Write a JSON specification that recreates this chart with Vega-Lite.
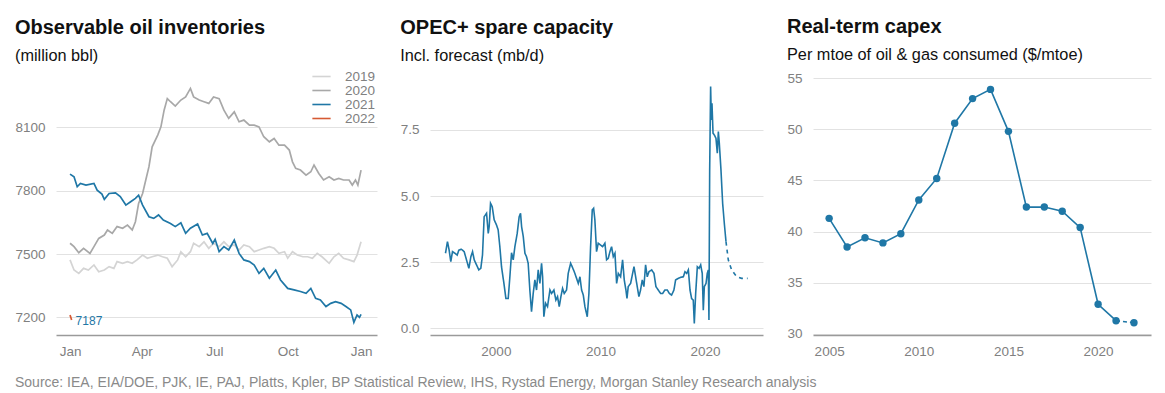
{
  "$schema": "https://vega.github.io/schema/vega-lite/v6.json",
  "padding": {"left": 14, "top": 16, "right": 5, "bottom": 0},
  "background": "white",
  "title": {"text": "Source: IEA, EIA/DOE, PJK, IE, PAJ, Platts, Kpler, BP Statistical Review, IHS, Rystad Energy, Morgan Stanley Research analysis", "orient": "bottom", "anchor": "start", "fontSize": 14, "fontWeight": "normal", "color": "#8a8a8a", "font": "Liberation Sans", "offset": 18},
  "datasets": {
    "inv": [
      {"year":"2019","day":0,"v":7472},{"year":"2019","day":5,"v":7424},{"year":"2019","day":11,"v":7408},{"year":"2019","day":17,"v":7432},{"year":"2019","day":23,"v":7424},{"year":"2019","day":30,"v":7448},{"year":"2019","day":36,"v":7416},{"year":"2019","day":43,"v":7424},{"year":"2019","day":49,"v":7440},{"year":"2019","day":55,"v":7432},{"year":"2019","day":59,"v":7464},{"year":"2019","day":66,"v":7456},{"year":"2019","day":72,"v":7464},{"year":"2019","day":78,"v":7456},{"year":"2019","day":84,"v":7472},{"year":"2019","day":91,"v":7495},{"year":"2019","day":97,"v":7480},{"year":"2019","day":103,"v":7487},{"year":"2019","day":110,"v":7495},{"year":"2019","day":116,"v":7487},{"year":"2019","day":122,"v":7480},{"year":"2019","day":128,"v":7440},{"year":"2019","day":135,"v":7472},{"year":"2019","day":139,"v":7511},{"year":"2019","day":145,"v":7487},{"year":"2019","day":151,"v":7511},{"year":"2019","day":155,"v":7551},{"year":"2019","day":162,"v":7535},{"year":"2019","day":168,"v":7558},{"year":"2019","day":174,"v":7527},{"year":"2019","day":180,"v":7551},{"year":"2019","day":187,"v":7535},{"year":"2019","day":193,"v":7558},{"year":"2019","day":199,"v":7535},{"year":"2019","day":206,"v":7543},{"year":"2019","day":212,"v":7519},{"year":"2019","day":218,"v":7543},{"year":"2019","day":225,"v":7535},{"year":"2019","day":231,"v":7511},{"year":"2019","day":237,"v":7519},{"year":"2019","day":243,"v":7527},{"year":"2019","day":250,"v":7535},{"year":"2019","day":256,"v":7527},{"year":"2019","day":262,"v":7503},{"year":"2019","day":269,"v":7511},{"year":"2019","day":273,"v":7480},{"year":"2019","day":279,"v":7511},{"year":"2019","day":285,"v":7495},{"year":"2019","day":292,"v":7487},{"year":"2019","day":298,"v":7487},{"year":"2019","day":304,"v":7480},{"year":"2019","day":310,"v":7503},{"year":"2019","day":316,"v":7487},{"year":"2019","day":325,"v":7456},{"year":"2019","day":331,"v":7487},{"year":"2019","day":337,"v":7503},{"year":"2019","day":343,"v":7480},{"year":"2019","day":350,"v":7472},{"year":"2019","day":356,"v":7464},{"year":"2019","day":360,"v":7495},{"year":"2019","day":365,"v":7558},
      {"year":"2020","day":0,"v":7551},{"year":"2020","day":5,"v":7535},{"year":"2020","day":11,"v":7506},{"year":"2020","day":17,"v":7527},{"year":"2020","day":25,"v":7503},{"year":"2020","day":30,"v":7535},{"year":"2020","day":36,"v":7574},{"year":"2020","day":43,"v":7590},{"year":"2020","day":47,"v":7614},{"year":"2020","day":53,"v":7598},{"year":"2020","day":59,"v":7630},{"year":"2020","day":66,"v":7622},{"year":"2020","day":72,"v":7637},{"year":"2020","day":78,"v":7614},{"year":"2020","day":82,"v":7653},{"year":"2020","day":86,"v":7740},{"year":"2020","day":91,"v":7787},{"year":"2020","day":95,"v":7851},{"year":"2020","day":99,"v":7914},{"year":"2020","day":103,"v":8008},{"year":"2020","day":110,"v":8064},{"year":"2020","day":114,"v":8103},{"year":"2020","day":118,"v":8182},{"year":"2020","day":122,"v":8237},{"year":"2020","day":126,"v":8222},{"year":"2020","day":132,"v":8201},{"year":"2020","day":139,"v":8230},{"year":"2020","day":145,"v":8245},{"year":"2020","day":151,"v":8285},{"year":"2020","day":155,"v":8245},{"year":"2020","day":162,"v":8230},{"year":"2020","day":168,"v":8222},{"year":"2020","day":174,"v":8214},{"year":"2020","day":180,"v":8245},{"year":"2020","day":187,"v":8237},{"year":"2020","day":193,"v":8182},{"year":"2020","day":199,"v":8143},{"year":"2020","day":206,"v":8174},{"year":"2020","day":212,"v":8127},{"year":"2020","day":218,"v":8135},{"year":"2020","day":225,"v":8111},{"year":"2020","day":231,"v":8111},{"year":"2020","day":237,"v":8103},{"year":"2020","day":243,"v":8056},{"year":"2020","day":250,"v":8032},{"year":"2020","day":256,"v":8048},{"year":"2020","day":262,"v":8016},{"year":"2020","day":269,"v":8016},{"year":"2020","day":275,"v":7993},{"year":"2020","day":279,"v":7937},{"year":"2020","day":283,"v":7906},{"year":"2020","day":289,"v":7898},{"year":"2020","day":296,"v":7874},{"year":"2020","day":302,"v":7890},{"year":"2020","day":306,"v":7922},{"year":"2020","day":312,"v":7882},{"year":"2020","day":318,"v":7851},{"year":"2020","day":325,"v":7866},{"year":"2020","day":331,"v":7851},{"year":"2020","day":337,"v":7858},{"year":"2020","day":343,"v":7851},{"year":"2020","day":350,"v":7851},{"year":"2020","day":354,"v":7827},{"year":"2020","day":358,"v":7851},{"year":"2020","day":361,"v":7827},{"year":"2020","day":365,"v":7898},
      {"year":"2021","day":0,"v":7879},{"year":"2021","day":5,"v":7866},{"year":"2021","day":9,"v":7819},{"year":"2021","day":13,"v":7835},{"year":"2021","day":20,"v":7827},{"year":"2021","day":30,"v":7835},{"year":"2021","day":34,"v":7803},{"year":"2021","day":40,"v":7784},{"year":"2021","day":43,"v":7759},{"year":"2021","day":49,"v":7787},{"year":"2021","day":57,"v":7790},{"year":"2021","day":63,"v":7772},{"year":"2021","day":70,"v":7732},{"year":"2021","day":76,"v":7748},{"year":"2021","day":82,"v":7764},{"year":"2021","day":86,"v":7779},{"year":"2021","day":91,"v":7732},{"year":"2021","day":99,"v":7677},{"year":"2021","day":105,"v":7669},{"year":"2021","day":111,"v":7685},{"year":"2021","day":117,"v":7661},{"year":"2021","day":126,"v":7645},{"year":"2021","day":132,"v":7630},{"year":"2021","day":139,"v":7648},{"year":"2021","day":145,"v":7598},{"year":"2021","day":151,"v":7622},{"year":"2021","day":160,"v":7642},{"year":"2021","day":166,"v":7590},{"year":"2021","day":172,"v":7598},{"year":"2021","day":179,"v":7550},{"year":"2021","day":182,"v":7570},{"year":"2021","day":187,"v":7511},{"year":"2021","day":193,"v":7535},{"year":"2021","day":199,"v":7519},{"year":"2021","day":206,"v":7566},{"year":"2021","day":212,"v":7503},{"year":"2021","day":218,"v":7472},{"year":"2021","day":225,"v":7464},{"year":"2021","day":231,"v":7448},{"year":"2021","day":237,"v":7408},{"year":"2021","day":243,"v":7432},{"year":"2021","day":250,"v":7385},{"year":"2021","day":258,"v":7424},{"year":"2021","day":264,"v":7377},{"year":"2021","day":273,"v":7337},{"year":"2021","day":281,"v":7330},{"year":"2021","day":289,"v":7322},{"year":"2021","day":296,"v":7314},{"year":"2021","day":302,"v":7337},{"year":"2021","day":308,"v":7290},{"year":"2021","day":314,"v":7282},{"year":"2021","day":321,"v":7251},{"year":"2021","day":327,"v":7266},{"year":"2021","day":333,"v":7274},{"year":"2021","day":340,"v":7266},{"year":"2021","day":346,"v":7251},{"year":"2021","day":352,"v":7235},{"year":"2021","day":356,"v":7176},{"year":"2021","day":360,"v":7211},{"year":"2021","day":363,"v":7200},{"year":"2021","day":365,"v":7214},
      {"year":"2022","day":0,"v":7211},{"year":"2022","day":2,"v":7187}
    ],
    "invlabel": [{"day": 7, "v": 7182, "label": "7187"}],
    "opec": [
      {"t":1995.18,"v":2.84,"k":"actual"},{"t":1995.37,"v":3.28,"k":"actual"},{"t":1995.53,"v":2.96,"k":"actual"},{"t":1995.69,"v":2.52,"k":"actual"},{"t":1995.85,"v":2.90,"k":"actual"},{"t":1996.08,"v":2.84,"k":"actual"},{"t":1996.30,"v":2.77,"k":"actual"},{"t":1996.46,"v":2.96,"k":"actual"},{"t":1996.71,"v":2.99,"k":"actual"},{"t":1996.97,"v":2.90,"k":"actual"},{"t":1997.19,"v":2.59,"k":"actual"},{"t":1997.42,"v":2.27,"k":"actual"},{"t":1997.61,"v":2.71,"k":"actual"},{"t":1997.77,"v":2.90,"k":"actual"},{"t":1997.93,"v":2.59,"k":"actual"},{"t":1998.15,"v":2.40,"k":"actual"},{"t":1998.37,"v":2.21,"k":"actual"},{"t":1998.56,"v":2.27,"k":"actual"},{"t":1998.72,"v":2.77,"k":"actual"},{"t":1998.88,"v":4.22,"k":"actual"},{"t":1999.11,"v":4.35,"k":"actual"},{"t":1999.27,"v":3.59,"k":"actual"},{"t":1999.36,"v":3.85,"k":"actual"},{"t":1999.49,"v":4.73,"k":"actual"},{"t":1999.65,"v":4.60,"k":"actual"},{"t":1999.84,"v":4.10,"k":"actual"},{"t":2000.06,"v":3.91,"k":"actual"},{"t":2000.22,"v":3.72,"k":"actual"},{"t":2000.38,"v":3.09,"k":"actual"},{"t":2000.54,"v":2.33,"k":"actual"},{"t":2000.77,"v":1.70,"k":"actual"},{"t":2000.96,"v":1.13,"k":"actual"},{"t":2001.18,"v":1.13,"k":"actual"},{"t":2001.34,"v":1.95,"k":"actual"},{"t":2001.50,"v":2.86,"k":"actual"},{"t":2001.66,"v":2.59,"k":"actual"},{"t":2001.82,"v":3.09,"k":"actual"},{"t":2002.04,"v":3.59,"k":"actual"},{"t":2002.23,"v":4.22,"k":"actual"},{"t":2002.36,"v":4.35,"k":"actual"},{"t":2002.46,"v":3.85,"k":"actual"},{"t":2002.62,"v":3.47,"k":"actual"},{"t":2002.78,"v":2.84,"k":"actual"},{"t":2002.93,"v":2.71,"k":"actual"},{"t":2003.09,"v":2.46,"k":"actual"},{"t":2003.25,"v":1.45,"k":"actual"},{"t":2003.41,"v":0.63,"k":"actual"},{"t":2003.57,"v":1.32,"k":"actual"},{"t":2003.73,"v":1.83,"k":"actual"},{"t":2003.89,"v":1.45,"k":"actual"},{"t":2004.05,"v":2.21,"k":"actual"},{"t":2004.21,"v":1.70,"k":"actual"},{"t":2004.37,"v":2.46,"k":"actual"},{"t":2004.47,"v":1.95,"k":"actual"},{"t":2004.59,"v":0.44,"k":"actual"},{"t":2004.75,"v":0.95,"k":"actual"},{"t":2004.94,"v":0.82,"k":"actual"},{"t":2005.17,"v":1.45,"k":"actual"},{"t":2005.33,"v":1.32,"k":"actual"},{"t":2005.55,"v":1.45,"k":"actual"},{"t":2005.74,"v":1.07,"k":"actual"},{"t":2005.90,"v":1.20,"k":"actual"},{"t":2006.06,"v":0.82,"k":"actual"},{"t":2006.22,"v":1.20,"k":"actual"},{"t":2006.38,"v":1.51,"k":"actual"},{"t":2006.54,"v":1.32,"k":"actual"},{"t":2006.76,"v":1.45,"k":"actual"},{"t":2006.92,"v":2.08,"k":"actual"},{"t":2007.15,"v":2.46,"k":"actual"},{"t":2007.30,"v":2.33,"k":"actual"},{"t":2007.50,"v":2.14,"k":"actual"},{"t":2007.72,"v":1.89,"k":"actual"},{"t":2007.88,"v":1.70,"k":"actual"},{"t":2008.04,"v":1.95,"k":"actual"},{"t":2008.20,"v":1.45,"k":"actual"},{"t":2008.36,"v":1.26,"k":"actual"},{"t":2008.52,"v":0.82,"k":"actual"},{"t":2008.74,"v":0.44,"k":"actual"},{"t":2008.90,"v":1.32,"k":"actual"},{"t":2009.06,"v":3.09,"k":"actual"},{"t":2009.22,"v":4.48,"k":"actual"},{"t":2009.35,"v":4.54,"k":"actual"},{"t":2009.47,"v":4.10,"k":"actual"},{"t":2009.63,"v":2.90,"k":"actual"},{"t":2009.79,"v":3.22,"k":"actual"},{"t":2010.02,"v":3.15,"k":"actual"},{"t":2010.21,"v":3.09,"k":"actual"},{"t":2010.43,"v":3.22,"k":"actual"},{"t":2010.59,"v":2.59,"k":"actual"},{"t":2010.75,"v":2.65,"k":"actual"},{"t":2010.91,"v":2.90,"k":"actual"},{"t":2011.07,"v":3.09,"k":"actual"},{"t":2011.23,"v":2.71,"k":"actual"},{"t":2011.39,"v":2.84,"k":"actual"},{"t":2011.55,"v":1.70,"k":"actual"},{"t":2011.71,"v":2.08,"k":"actual"},{"t":2011.93,"v":1.95,"k":"actual"},{"t":2012.12,"v":2.59,"k":"actual"},{"t":2012.28,"v":1.83,"k":"actual"},{"t":2012.44,"v":1.45,"k":"actual"},{"t":2012.54,"v":1.13,"k":"actual"},{"t":2012.66,"v":1.58,"k":"actual"},{"t":2012.89,"v":1.70,"k":"actual"},{"t":2013.08,"v":2.08,"k":"actual"},{"t":2013.21,"v":2.33,"k":"actual"},{"t":2013.37,"v":1.95,"k":"actual"},{"t":2013.52,"v":1.58,"k":"actual"},{"t":2013.68,"v":1.20,"k":"actual"},{"t":2013.84,"v":1.45,"k":"actual"},{"t":2014.00,"v":1.83,"k":"actual"},{"t":2014.16,"v":1.58,"k":"actual"},{"t":2014.32,"v":2.40,"k":"actual"},{"t":2014.48,"v":1.95,"k":"actual"},{"t":2014.64,"v":2.14,"k":"actual"},{"t":2014.90,"v":2.21,"k":"actual"},{"t":2015.12,"v":2.08,"k":"actual"},{"t":2015.31,"v":1.58,"k":"actual"},{"t":2015.53,"v":1.45,"k":"actual"},{"t":2015.76,"v":1.32,"k":"actual"},{"t":2015.95,"v":1.32,"k":"actual"},{"t":2016.17,"v":1.45,"k":"actual"},{"t":2016.40,"v":1.45,"k":"actual"},{"t":2016.59,"v":1.32,"k":"actual"},{"t":2016.81,"v":1.26,"k":"actual"},{"t":2017.03,"v":1.45,"k":"actual"},{"t":2017.19,"v":1.83,"k":"actual"},{"t":2017.45,"v":1.89,"k":"actual"},{"t":2017.67,"v":1.93,"k":"actual"},{"t":2017.93,"v":1.95,"k":"actual"},{"t":2018.09,"v":2.14,"k":"actual"},{"t":2018.25,"v":2.08,"k":"actual"},{"t":2018.41,"v":2.21,"k":"actual"},{"t":2018.57,"v":1.45,"k":"actual"},{"t":2018.72,"v":1.13,"k":"actual"},{"t":2018.88,"v":1.07,"k":"actual"},{"t":2018.98,"v":0.19,"k":"actual"},{"t":2019.11,"v":1.32,"k":"actual"},{"t":2019.27,"v":2.33,"k":"actual"},{"t":2019.43,"v":2.27,"k":"actual"},{"t":2019.59,"v":2.40,"k":"actual"},{"t":2019.74,"v":2.08,"k":"actual"},{"t":2019.84,"v":0.69,"k":"actual"},{"t":2019.94,"v":1.58,"k":"actual"},{"t":2020.10,"v":1.70,"k":"actual"},{"t":2020.22,"v":2.08,"k":"actual"},{"t":2020.32,"v":2.21,"k":"actual"},{"t":2020.38,"v":0.32,"k":"actual"},{"t":2020.45,"v":5.99,"k":"actual"},{"t":2020.54,"v":9.14,"k":"actual"},{"t":2020.61,"v":7.88,"k":"actual"},{"t":2020.67,"v":8.51,"k":"actual"},{"t":2020.77,"v":7.38,"k":"actual"},{"t":2020.89,"v":7.31,"k":"actual"},{"t":2021.05,"v":7.19,"k":"actual"},{"t":2021.18,"v":6.62,"k":"actual"},{"t":2021.28,"v":7.44,"k":"actual"},{"t":2021.37,"v":7.00,"k":"actual"},{"t":2021.53,"v":5.99,"k":"actual"},{"t":2021.69,"v":4.73,"k":"actual"},{"t":2021.85,"v":3.97,"k":"actual"},{"t":2022.01,"v":3.28,"k":"actual"},
      {"t":2022.01,"v":3.28,"k":"forecast"},{"t":2022.23,"v":2.59,"k":"forecast"},{"t":2022.55,"v":2.21,"k":"forecast"},{"t":2023.03,"v":1.95,"k":"forecast"},{"t":2023.51,"v":1.89,"k":"forecast"},{"t":2024.08,"v":1.89,"k":"forecast"}
    ],
    "capex": [
      {"year":2005,"v":41.3},{"year":2006,"v":38.5},{"year":2007,"v":39.4},{"year":2008,"v":38.9},{"year":2009,"v":39.8},{"year":2010,"v":43.1},{"year":2011,"v":45.2},{"year":2012,"v":50.6},{"year":2013,"v":53.0},{"year":2014,"v":53.9},{"year":2015,"v":49.8},{"year":2016,"v":42.4},{"year":2017,"v":42.4},{"year":2018,"v":42.0},{"year":2019,"v":40.4},{"year":2020,"v":32.9},{"year":2021,"v":31.3},{"year":2022,"v":31.1}
    ]
  },
  "spacing": 23,
  "hconcat": [
    {
      "width": 321, "height": 263,
      "title": {"text": "Observable oil inventories", "subtitle": "(million bbl)"},
      "layer": [
        {
          "data": {"name": "inv"},
          "mark": {"type": "line", "strokeWidth": 1.7, "interpolate": "linear"},
          "encoding": {
            "x": {"field": "day", "type": "quantitative", "scale": {"domain": [-17.6, 385], "nice": false, "zero": false},
                  "axis": {"values": [0, 90, 181, 273, 365], "labelExpr": "datum.value == 0 ? 'Jan' : datum.value == 90 ? 'Apr' : datum.value == 181 ? 'Jul' : datum.value == 273 ? 'Oct' : 'Jan'"}},
            "y": {"field": "v", "type": "quantitative", "scale": {"domain": [7116, 8363], "nice": false, "zero": false}, "axis": {"values": [7200, 7500, 7800, 8100], "format": "d"}},
            "color": {"field": "year", "type": "nominal", "scale": {"domain": ["2019", "2020", "2021", "2022"], "range": ["#d4d4d4", "#a8a8a8", "#1f77a6", "#d65a33"]},
                      "legend": {"orient": "none", "legendX": 258, "legendY": -3, "title": null, "symbolType": "M-1.4,0H1.4", "symbolStrokeWidth": 1.6, "symbolSize": 170, "labelFontSize": 13.5, "labelColor": "#808080", "labelFont": "Liberation Sans", "rowPadding": -1, "labelOffset": 16}},
            "order": {"field": "day", "type": "quantitative"}
          }
        },
        {
          "data": {"name": "invlabel"},
          "mark": {"type": "text", "align": "left", "baseline": "middle", "fontSize": 12, "color": "#1f77a6", "font": "Liberation Sans"},
          "encoding": {
            "x": {"field": "day", "type": "quantitative"},
            "y": {"field": "v", "type": "quantitative"},
            "text": {"field": "label"}
          }
        }
      ]
    },
    {
      "width": 333, "height": 263,
      "title": {"text": "OPEC+ spare capacity", "subtitle": "Incl. forecast (mb/d)"},
      "data": {"name": "opec"},
      "mark": {"type": "line", "strokeWidth": 1.6, "color": "#1f77a6"},
      "encoding": {
        "x": {"field": "t", "type": "quantitative", "scale": {"domain": [1993.7, 2025.55], "nice": false, "zero": false}, "axis": {"values": [2000, 2010, 2020], "format": "d"}},
        "y": {"field": "v", "type": "quantitative", "scale": {"domain": [-0.25, 9.69], "nice": false, "zero": false}, "axis": {"values": [0, 2.5, 5, 7.5], "format": ".1f"}},
        "strokeDash": {"field": "k", "type": "nominal", "scale": {"domain": ["actual", "forecast"], "range": [[1, 0], [4, 4]]}, "legend": null},
        "order": {"field": "t", "type": "quantitative"}
      }
    },
    {
      "width": 338, "height": 263,
      "title": {"text": "Real-term capex", "subtitle": "Per mtoe of oil & gas consumed ($/mtoe)"},
      "data": {"name": "capex"},
      "encoding": {
        "x": {"field": "year", "type": "quantitative", "scale": {"domain": [2004.1, 2022.95], "nice": false, "zero": false}, "axis": {"values": [2005, 2010, 2015, 2020], "format": "d"}},
        "y": {"field": "v", "type": "quantitative", "scale": {"domain": [29.9, 55.6], "nice": false, "zero": false}, "axis": {"values": [30, 35, 40, 45, 50, 55]}}
      },
      "layer": [
        {"transform": [{"filter": "datum.year <= 2021"}], "mark": {"type": "line", "strokeWidth": 1.6, "color": "#1f77a6"}},
        {"transform": [{"filter": "datum.year >= 2021"}], "mark": {"type": "line", "strokeWidth": 1.6, "color": "#1f77a6", "strokeDash": [4, 3]}},
        {"mark": {"type": "point", "filled": true, "size": 55, "color": "#1f77a6", "opacity": 1}}
      ]
    }
  ],
  "config": {
    "view": {"stroke": null},
    "font": "Liberation Sans",
    "title": {"anchor": "start", "font": "Liberation Sans", "fontSize": 20, "fontWeight": "bold", "color": "#111111", "subtitleFont": "Liberation Sans", "subtitleFontSize": 16.3, "subtitleColor": "#111111", "subtitlePadding": 10, "offset": 8},
    "axis": {"labelFont": "Liberation Sans", "labelFontSize": 13.5, "labelColor": "#808080", "ticks": false, "grid": false, "domain": false, "title": null},
    "axisX": {"domain": true, "domainColor": "#9a9a9a", "domainWidth": 1.5, "labelPadding": 9},
    "axisY": {"grid": true, "gridColor": "#e2e2e2", "gridWidth": 1, "labelPadding": 11}
  }
}
